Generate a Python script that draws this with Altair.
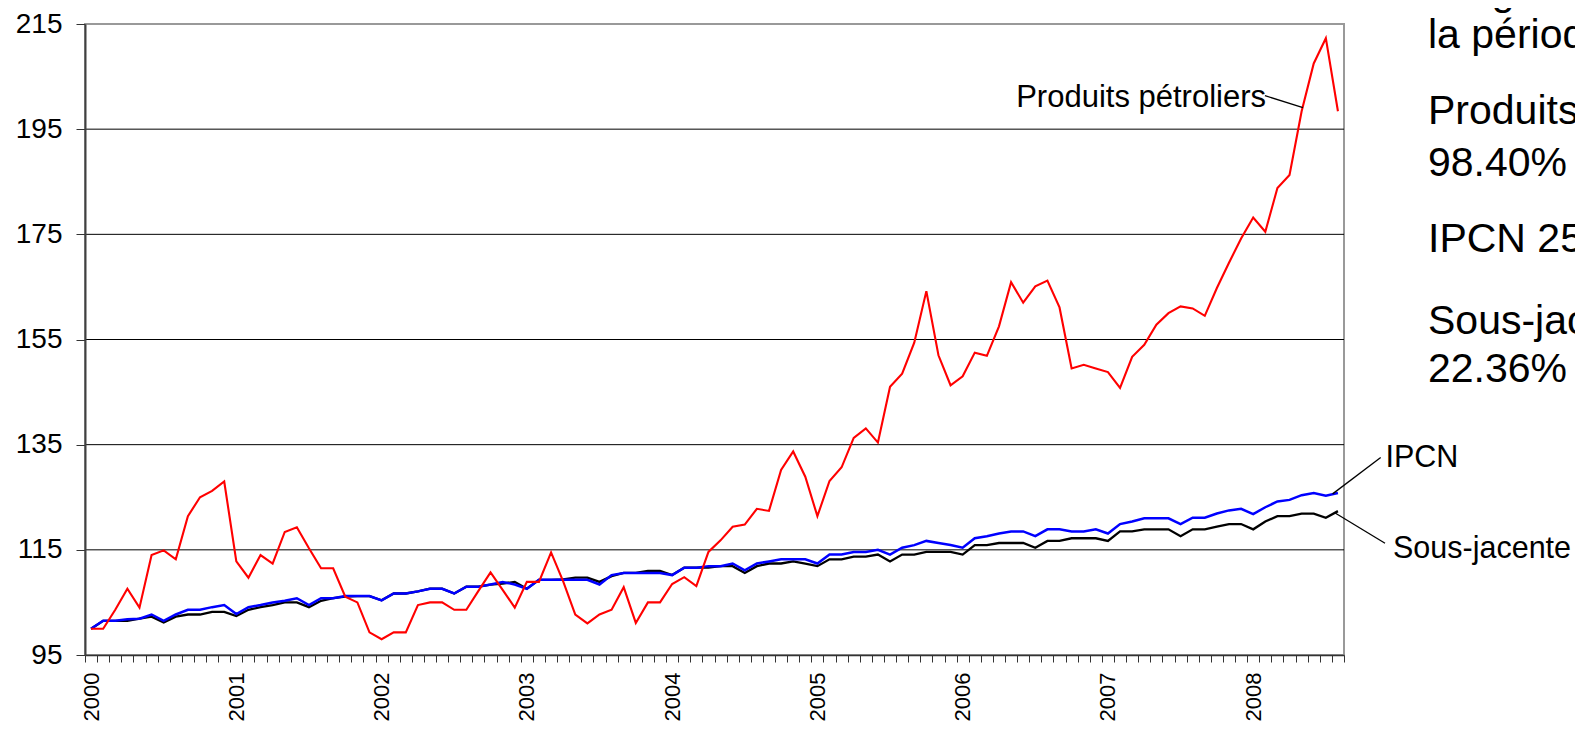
import altair as alt
import pandas as pd

# ---- Axes / ticks ----
annees = [2000, 2001, 2002, 2003, 2004, 2005, 2006, 2007, 2008]
graduations_y = [95, 115, 135, 155, 175, 195, 215]
grille_y = [115, 135, 155, 175, 195]

# ---- Series (monthly index, Jan 2000 = 100, Jan 2000 .. Aug 2008) ----
produits_petroliers = [
    100.0, 100.0, 103.6, 107.6, 104.0, 114.0, 114.9, 113.2, 121.4, 125.0, 126.2, 128.0,
    112.8, 109.7, 114.0, 112.4, 118.4, 119.3, 115.3, 111.5, 111.5, 106.1, 105.0, 99.3,
    98.0, 99.3, 99.3, 104.5, 105.0, 105.0, 103.6, 103.6, 107.2, 110.7, 107.4, 104.0,
    108.9, 108.9, 114.5, 109.0, 102.7, 101.0, 102.7, 103.6, 107.9, 101.1, 105.0, 105.0,
    108.5, 109.8, 108.1, 114.6, 116.8, 119.4, 119.8, 122.8, 122.4, 130.2, 133.7, 128.9,
    121.4, 128.1, 130.7, 136.3, 138.1, 135.4, 146.0, 148.5, 154.4, 164.2, 152.0, 146.3,
    148.0, 152.5, 151.9, 157.5, 165.9, 162.0, 165.1, 166.2, 161.1, 149.5, 150.2, 149.5,
    148.8, 145.8, 151.7, 154.0, 157.8, 160.0, 161.3, 160.9, 159.5, 164.8, 169.6, 174.2,
    178.2, 175.5, 183.8, 186.3, 198.4, 207.5, 212.3, 198.4,
]
ipcn = [
    100.0, 101.5, 101.5, 101.8, 101.9, 102.7, 101.5, 102.7, 103.6, 103.6, 104.1, 104.5,
    102.8, 104.1, 104.5, 105.0, 105.3, 105.8, 104.5, 105.8, 105.8, 106.2, 106.2, 106.2,
    105.4, 106.7, 106.7, 107.1, 107.6, 107.6, 106.7, 108.0, 108.0, 108.4, 108.9, 108.4,
    107.6, 109.3, 109.3, 109.3, 109.3, 109.3, 108.4, 110.2, 110.6, 110.6, 110.6, 110.6,
    110.2, 111.6, 111.6, 111.9, 111.9, 112.4, 111.1, 112.4, 112.8, 113.2, 113.2, 113.2,
    112.4, 114.1, 114.1, 114.6, 114.6, 115.0, 114.1, 115.4, 115.9, 116.7, 116.3, 115.9,
    115.4, 117.2, 117.6, 118.1, 118.5, 118.5, 117.6, 118.9, 118.9, 118.5, 118.5, 118.9,
    118.1, 119.9, 120.4, 121.0, 121.0, 121.0, 119.9, 121.1, 121.1, 121.9, 122.5, 122.8,
    121.8, 123.1, 124.2, 124.5, 125.4, 125.8, 125.3, 125.8,
]
sous_jacente = [
    100.0, 101.5, 101.5, 101.5, 101.9, 102.3, 101.2, 102.3, 102.7, 102.7, 103.2, 103.2,
    102.4, 103.6, 104.1, 104.5, 105.0, 105.0, 104.1, 105.3, 105.8, 106.1, 106.2, 106.2,
    105.4, 106.7, 106.7, 107.1, 107.6, 107.6, 106.7, 108.0, 108.0, 108.4, 108.6, 108.9,
    107.6, 109.3, 109.3, 109.4, 109.7, 109.7, 108.9, 110.0, 110.6, 110.6, 111.0, 111.0,
    110.2, 111.6, 111.6, 111.6, 111.9, 111.9, 110.6, 111.9, 112.4, 112.4, 112.8, 112.4,
    111.9, 113.2, 113.2, 113.7, 113.7, 114.1, 112.8, 114.1, 114.1, 114.6, 114.6, 114.6,
    114.1, 115.9, 115.9, 116.3, 116.3, 116.3, 115.4, 116.7, 116.7, 117.2, 117.2, 117.2,
    116.7, 118.5, 118.5, 118.9, 118.9, 118.9, 117.6, 118.9, 118.9, 119.4, 119.9, 119.9,
    118.9, 120.4, 121.4, 121.4, 121.9, 121.9, 121.1, 122.36,
]

# ---- Annotations (data coordinates: month index, index value) ----
etiquettes_droite = ["Produits pétroliers"]
etiq_droite_mois = [97.56]
etiq_droite_val = [199.2]

etiquettes_gauche = ["IPCN", "Sous-jacente"]
etiq_gauche_mois = [107.42, 108.05]
etiq_gauche_val = [130.83, 113.40]

renvoi_depart_mois = [97.47, 107.03, 107.39]
renvoi_depart_val = [201.37, 132.55, 116.26]
renvoi_arrivee_mois = [100.61, 103.06, 103.20]
renvoi_arrivee_val = [199.09, 125.64, 122.10]

bloc_lignes = ["Progression sur", "la période :", "Produits pétroliers", "98.40%",
               "IPCN 25.80%", "Sous-jacente", "22.36%"]
bloc_val = [218.69, 210.45, 196.05, 186.15, 171.63, 156.03, 147.01]
bloc_mois = 110.94

FONT = "Liberation Sans"
n_mois = len(ipcn)
mois = [i + 0.5 for i in range(n_mois)]

x_scale = alt.Scale(domain=[0, n_mois], nice=False, zero=False)
y_scale = alt.Scale(domain=[95, 215], nice=False, zero=False)

labels_arr = "[" + ",".join("'%d'" % a for a in annees) + "]"
label_expr = ("datum.value % 12 == 0 && datum.value / 12 < " + str(len(annees)) +
              " ? " + labels_arr + "[datum.value / 12] : ''")

x_axis = alt.Axis(values=list(range(0, n_mois + 1)), labelExpr=label_expr, labelAngle=270,
                  labelOffset=6, tickSize=7, labelPadding=10, labelFontSize=22,
                  labelFont=FONT, labelColor="black", grid=False, title=None,
                  domainColor="#333333", domainWidth=1.5, tickColor="#333333", tickWidth=1,
                  labelOverlap=False, labelFlush=False, labelBound=False, zindex=1)
y_axis = alt.Axis(values=graduations_y, grid=False, tickSize=9, labelPadding=14,
                  labelFontSize=28, labelFont=FONT, labelColor="black", title=None,
                  domainColor="#404040", domainWidth=2, tickColor="#333333", tickWidth=1,
                  labelFlush=False, zindex=1)


def X():
    return alt.X("mois:Q", scale=x_scale, axis=x_axis)


def Y():
    return alt.Y("valeur:Q", scale=y_scale, axis=y_axis)


def serie_df(vals):
    return pd.DataFrame({"mois": mois, "valeur": vals})


grille = alt.Chart(pd.DataFrame({"valeur": grille_y})).mark_rule(
    color="black", strokeWidth=1
).encode(y=Y())

ligne_sj = alt.Chart(serie_df(sous_jacente)).mark_line(color="black", strokeWidth=2.3).encode(
    x=X(), y=Y()
)
ligne_ipcn = alt.Chart(serie_df(ipcn)).mark_line(color="#0000FF", strokeWidth=2.5).encode(
    x=X(), y=Y()
)
ligne_pp = alt.Chart(serie_df(produits_petroliers)).mark_line(color="#FF0000", strokeWidth=2.1).encode(
    x=X(), y=Y()
)

renvois = alt.Chart(pd.DataFrame({
    "mois": renvoi_depart_mois, "valeur": renvoi_depart_val,
    "mois2": renvoi_arrivee_mois, "valeur2": renvoi_arrivee_val,
})).mark_rule(color="black", strokeWidth=1.3).encode(
    x=X(), y=Y(), x2="mois2:Q", y2="valeur2:Q",
)

texte_droite = alt.Chart(pd.DataFrame({
    "mois": etiq_droite_mois, "valeur": etiq_droite_val, "t": etiquettes_droite,
})).mark_text(align="right", baseline="alphabetic", fontSize=31, font=FONT, color="black").encode(
    x=X(), y=Y(), text="t:N",
)
texte_gauche = alt.Chart(pd.DataFrame({
    "mois": etiq_gauche_mois, "valeur": etiq_gauche_val, "t": etiquettes_gauche,
})).mark_text(align="left", baseline="alphabetic", fontSize=30.5, font=FONT, color="black").encode(
    x=X(), y=Y(), text="t:N",
)
bloc = alt.Chart(pd.DataFrame({
    "mois": [bloc_mois] * len(bloc_lignes), "valeur": bloc_val, "t": bloc_lignes,
})).mark_text(align="left", baseline="alphabetic", fontSize=41, font=FONT, color="black").encode(
    x=X(), y=Y(), text="t:N",
)

chart = alt.layer(
    grille, ligne_sj, ligne_ipcn, ligne_pp, renvois, texte_droite, texte_gauche, bloc
).properties(
    width=1259, height=631,
    autosize=alt.AutoSizeParams(type="none"),
    padding={"left": 77, "top": 16, "right": 231, "bottom": 66},
    background="white",
).configure(font=FONT).configure_view(stroke="#999999", strokeWidth=2)

chart.save("out.html", embed_options={"renderer": "svg", "actions": False})
